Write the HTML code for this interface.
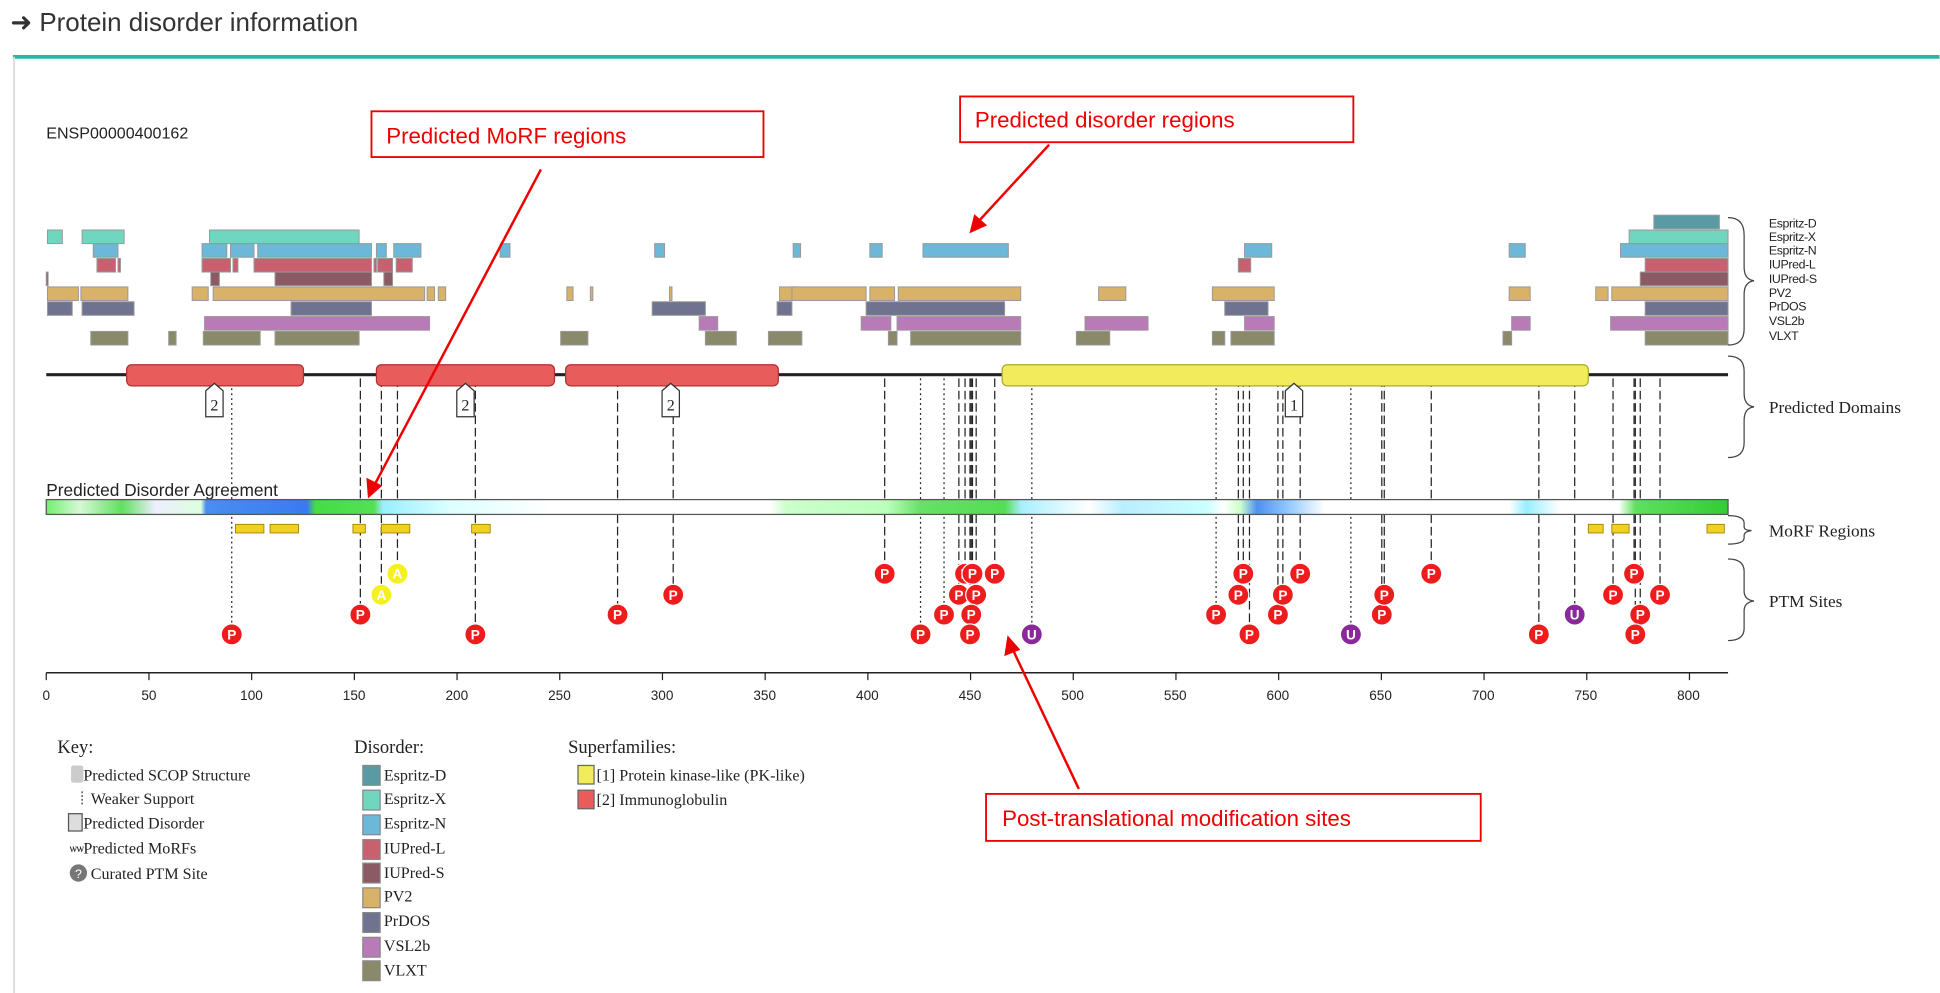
<!DOCTYPE html>
<html><head><meta charset="utf-8"><style>
html,body{margin:0;padding:0;background:#fff;}
svg{display:block;}
text{font-family:"Liberation Serif",serif;}
.s,.s text{font-family:"Liberation Sans",sans-serif;}
.pt{font-family:"Liberation Sans",sans-serif;font-size:11px;fill:#fff;text-anchor:middle;font-weight:bold;}
</style></head><body>
<svg id="g" width="1940" height="993" viewBox="0 0 1568 803" xmlns="http://www.w3.org/2000/svg">
<rect width="1568" height="803" fill="#fff"/>
<text x="8" y="25" class="s" font-size="21" fill="#333">➜ Protein disorder information</text>
<line x1="10" y1="46" x2="1568" y2="46" stroke="#2ab5a5" stroke-width="3"/>
<line x1="11" y1="46" x2="11" y2="803" stroke="#ddd" stroke-width="1.5"/>
<text x="37" y="112" class="s" font-size="13" fill="#222">ENSP00000400162</text>
<g id="bars"></g>
<line x1="37" y1="303" x2="1397" y2="303" stroke="#222" stroke-width="2.5"/>
<g id="ptmlines"></g>
<rect x="102" y="295" width="143" height="17" rx="4" fill="#e85c5c" stroke="#a33" stroke-width="1"/>
<rect x="304" y="295" width="144" height="17" rx="4" fill="#e85c5c" stroke="#a33" stroke-width="1"/>
<rect x="457" y="295" width="172" height="17" rx="4" fill="#e85c5c" stroke="#a33" stroke-width="1"/>
<rect x="810" y="295" width="474" height="17" rx="4" fill="#f2ec5c" stroke="#aa3" stroke-width="1"/>
<g fill="#fff" stroke="#333" stroke-width="1">
<path d="M166 316 L173 310 L180 316 L180 337 L166 337 Z"/>
<path d="M369 316 L376 310 L383 316 L383 337 L369 337 Z"/>
<path d="M535 316 L542 310 L549 316 L549 337 L535 337 Z"/>
<path d="M1039 316 L1046 310 L1053 316 L1053 337 L1039 337 Z"/>
</g>
<g font-size="13" fill="#222" text-anchor="middle">
<text x="173" y="332">2</text><text x="376" y="332">2</text><text x="542" y="332">2</text><text x="1046" y="332">1</text>
</g>
<text x="37" y="401" class="s" font-size="14" fill="#222">Predicted Disorder Agreement</text>
<defs>
<linearGradient id="ag" x1="0" x2="1" y1="0" y2="0">
<stop offset="0" stop-color="#6ef06e"/><stop offset="0.02" stop-color="#d8f8d8"/><stop offset="0.045" stop-color="#5fe05f"/>
<stop offset="0.065" stop-color="#eef"/><stop offset="0.092" stop-color="#dfd"/><stop offset="0.095" stop-color="#4a8ef0"/><stop offset="0.155" stop-color="#3a7af0"/>
<stop offset="0.16" stop-color="#44dd44"/><stop offset="0.195" stop-color="#55e055"/><stop offset="0.2" stop-color="#9ef"/>
<stop offset="0.24" stop-color="#dff"/><stop offset="0.3" stop-color="#fff"/><stop offset="0.43" stop-color="#fff"/>
<stop offset="0.44" stop-color="#cfc"/><stop offset="0.5" stop-color="#bfb"/><stop offset="0.52" stop-color="#66e066"/>
<stop offset="0.57" stop-color="#55dd55"/><stop offset="0.58" stop-color="#aef"/><stop offset="0.62" stop-color="#fff"/>
<stop offset="0.64" stop-color="#bef"/><stop offset="0.69" stop-color="#cff"/><stop offset="0.7" stop-color="#fff"/>
<stop offset="0.71" stop-color="#cfc"/><stop offset="0.72" stop-color="#5090f0"/><stop offset="0.74" stop-color="#9cf"/>
<stop offset="0.76" stop-color="#fff"/><stop offset="0.87" stop-color="#fff"/><stop offset="0.88" stop-color="#9ef"/>
<stop offset="0.9" stop-color="#fff"/><stop offset="0.935" stop-color="#fff"/><stop offset="0.945" stop-color="#5fe05f"/>
<stop offset="1" stop-color="#33cc33"/>
</linearGradient>
</defs>
<rect x="37" y="404" width="1360" height="12" fill="url(#ag)" stroke="#555" stroke-width="1"/>
<g fill="#f0d020" stroke="#a08000" stroke-width="0.7">
<rect x="190" y="424" width="23" height="7"/><rect x="218" y="424" width="23" height="7"/><rect x="285" y="424" width="10" height="7"/>
<rect x="308" y="424" width="23" height="7"/><rect x="381" y="424" width="15" height="7"/><rect x="1284" y="424" width="12" height="7"/>
<rect x="1303" y="424" width="14" height="7"/><rect x="1380" y="424" width="14" height="7"/>
</g>
<g id="ptm"></g>
<line x1="37" y1="544" x2="1397" y2="544" stroke="#222" stroke-width="1.2"/>
<g id="ticks"></g>
<g font-size="11" class="s" fill="#222" text-anchor="middle">
<text x="37" y="566">0</text><text x="120" y="566">50</text><text x="203" y="566">100</text><text x="286" y="566">150</text><text x="369" y="566">200</text><text x="452" y="566">250</text><text x="535" y="566">300</text><text x="618" y="566">350</text><text x="701" y="566">400</text><text x="784" y="566">450</text><text x="867" y="566">500</text><text x="950" y="566">550</text><text x="1033" y="566">600</text><text x="1116" y="566">650</text><text x="1199" y="566">700</text><text x="1282" y="566">750</text><text x="1365" y="566">800</text>
</g>
<g fill="none" stroke="#444" stroke-width="1">
<path d="M1397 176 Q1410 176 1410 190 L1410 216 Q1410 226 1418 227 Q1410 228 1410 238 L1410 266 Q1410 279 1397 279"/>
<path d="M1397 288 Q1410 288 1410 300 L1410 318 Q1410 328 1418 329 Q1410 330 1410 340 L1410 358 Q1410 370 1397 370"/>
<path d="M1397 417 Q1410 417 1410 423 L1410 426 Q1410 429 1416 429 Q1410 430 1410 433 L1410 435 Q1410 440 1397 440"/>
<path d="M1397 452 Q1410 452 1410 462 L1410 478 Q1410 485 1418 486 Q1410 487 1410 494 L1410 508 Q1410 518 1397 518"/>
</g>
<g class="s" font-size="10" fill="#222" letter-spacing="-0.3">
<text x="1430" y="184">Espritz-D</text><text x="1430" y="195">Espritz-X</text><text x="1430" y="206">Espritz-N</text><text x="1430" y="217">IUPred-L</text><text x="1430" y="229">IUPred-S</text><text x="1430" y="240">PV2</text><text x="1430" y="251">PrDOS</text><text x="1430" y="263">VSL2b</text><text x="1430" y="275">VLXT</text>
</g>
<g font-size="14" fill="#222">
<text x="1430" y="334">Predicted Domains</text><text x="1430" y="434">MoRF Regions</text><text x="1430" y="491">PTM Sites</text>
</g>
<g font-size="15" fill="#222">
<text x="46" y="609">Key:</text>
<text x="286" y="609">Disorder:</text>
<text x="459" y="609">Superfamilies:</text>
</g>
<g font-size="13" fill="#222">
<rect x="57" y="619" width="10" height="14" rx="2" fill="#ccc"/><text x="67" y="631">Predicted SCOP Structure</text>
<line x1="66" y1="640" x2="66" y2="652" stroke="#333" stroke-dasharray="1.5,1.5"/><text x="73" y="650">Weaker Support</text>
<rect x="55" y="658" width="11" height="14" fill="#ddd" stroke="#555"/><text x="67" y="670">Predicted Disorder</text>
<text x="56" y="689" font-size="9">ѡѡ</text><text x="67" y="690">Predicted MoRFs</text>
<circle cx="63" cy="706" r="7" fill="#777"/><text x="63" y="710" fill="#fff" font-size="10" text-anchor="middle" class="s">?</text><text x="73" y="711">Curated PTM Site</text>
</g>
<g id="dkey" font-size="13" fill="#222">
<text x="310" y="631">Espritz-D</text><text x="310" y="650">Espritz-X</text><text x="310" y="670">Espritz-N</text><text x="310" y="690">IUPred-L</text><text x="310" y="710">IUPred-S</text><text x="310" y="729">PV2</text><text x="310" y="749">PrDOS</text><text x="310" y="769">VSL2b</text><text x="310" y="789">VLXT</text>
</g>
<g stroke="#666" stroke-width="1">
<rect x="467" y="619" width="13" height="15" fill="#f2ec5c"/>
<rect x="467" y="639" width="13" height="15" fill="#e85c5c"/>
</g>
<g font-size="13" fill="#222"><text x="482" y="631">[1] Protein kinase-like (PK-like)</text><text x="482" y="651">[2] Immunoglobulin</text></g>
<g fill="#fff" stroke="#e00" stroke-width="1.5">
<rect x="300" y="90" width="317" height="37"/>
<rect x="776" y="78" width="318" height="37"/>
<rect x="797" y="642" width="400" height="38"/>
</g>
<g class="s" font-size="18" fill="#e00">
<text x="312" y="116">Predicted MoRF regions</text>
<text x="788" y="103">Predicted disorder regions</text>
<text x="810" y="668">Post-translational modification sites</text>
</g>
<g stroke="#e00" stroke-width="2" fill="#e00">
<line x1="437" y1="137" x2="302" y2="393"/><path d="M298 401 L297 388 L307 393 Z"/>
<line x1="848" y1="117" x2="790" y2="180"/><path d="M785 187 L788 175 L796 182 Z"/>
<line x1="872" y1="638" x2="818" y2="524"/><path d="M815 516 L823 525 L813 529 Z"/>
</g>
</svg>
<script>
var NS="http://www.w3.org/2000/svg";
function el(p,t,a){var e=document.createElementNS(NS,t);for(var k in a)e.setAttribute(k,a[k]);p.appendChild(e);return e;}
var rows=[
["#5a9aa5",174,[[1337,1390]]],
["#70d6c0",186,[[38,50],[66,100],[169,290],[1317,1397]]],
["#6bb8d8",197,[[75,95],[163,183],[186,205],[208,300],[304,312],[318,340],[404,412],[529,537],[641,647],[703,713],[746,815],[1006,1028],[1220,1233],[1310,1397]]],
["#c8606f",209,[[78,93],[95,97],[163,186],[188,192],[205,300],[302,304],[305,317],[320,333],[1001,1011],[1330,1397]]],
["#8c5a64",220,[[37,38],[170,177],[222,300],[310,317],[1326,1397]]],
["#d9b26a",232,[[38,63],[65,103],[155,168],[172,343],[345,351],[354,360],[458,463],[477,479],[541,543],[630,643],[640,700],[703,723],[726,825],[888,910],[980,1030],[1220,1237],[1290,1300],[1303,1397]]],
["#6f7390",244,[[38,58],[66,108],[235,300],[527,570],[628,640],[700,812],[990,1025],[1330,1397]]],
["#b87bb8",256,[[165,347],[565,580],[696,720],[725,825],[877,928],[1006,1030],[1222,1237],[1302,1397]]],
["#8a8a6a",268,[[73,103],[136,142],[164,210],[222,290],[453,475],[570,595],[621,648],[718,725],[736,825],[870,897],[980,990],[995,1030],[1215,1222],[1330,1397]]]];
var b=document.getElementById("bars");
rows.forEach(function(r){r[2].forEach(function(s){el(b,"rect",{x:s[0],y:r[1],width:Math.max(1.5,s[1]-s[0]),height:11,fill:r[0],stroke:"#999","stroke-width":0.8});});});
var dk=document.getElementById("dkey");
rows.forEach(function(r,i){el(dk,"rect",{x:293,y:[619,639,659,679,698,718,738,758,777][i],width:14,height:16,fill:r[0],stroke:"#888"});});
var t=document.getElementById("ticks");
for(var i=0;i<=16;i++){var x=37+i*83.05;el(t,"line",{x1:x,y1:544,x2:x,y2:550,stroke:"#222"});}
var Y=[464,481,497,513];
var p=[[187,3,"P",1],[291,2,"P"],[308,1,"A"],[321,0,"A"],[384,3,"P"],[499,2,"P"],[544,1,"P"],[715,0,"P"],[744,3,"P",1],[763,2,"P",1],[775,1,"P"],[780,0,"P"],[786,0,"P"],[789,1,"P"],[785,2,"P"],[784,3,"P"],[804,0,"P"],[834,3,"U",1],
[983,2,"P",1],[1001,1,"P"],[1005,0,"P"],[1010,3,"P"],[1033,2,"P"],[1037,1,"P"],[1051,0,"P"],[1092,3,"U",1],[1117,2,"P"],[1119,1,"P"],[1157,0,"P"],[1244,3,"P"],[1273,2,"U"],[1304,1,"P"],[1321,0,"P"],[1326,2,"P"],[1322,3,"P"],[1342,1,"P"]];
var L=document.getElementById("ptmlines"),G=document.getElementById("ptm");
p.forEach(function(q){var y=Y[q[1]];
el(L,"line",{x1:q[0],y1:306,x2:q[0],y2:y,stroke:"#222","stroke-width":1,"stroke-dasharray":q[3]?"1.5,2.5":"7,3"});
var c=q[2]=="P"?"#ee1c1c":q[2]=="U"?"#8a2a9a":"#f5f020";
el(G,"circle",{cx:q[0],cy:y,r:8.5,fill:c,stroke:"#fff","stroke-width":1});
var tx=el(G,"text",{x:q[0],y:y+4,"class":"pt"});tx.textContent=q[2];});
</script>
</body></html>
